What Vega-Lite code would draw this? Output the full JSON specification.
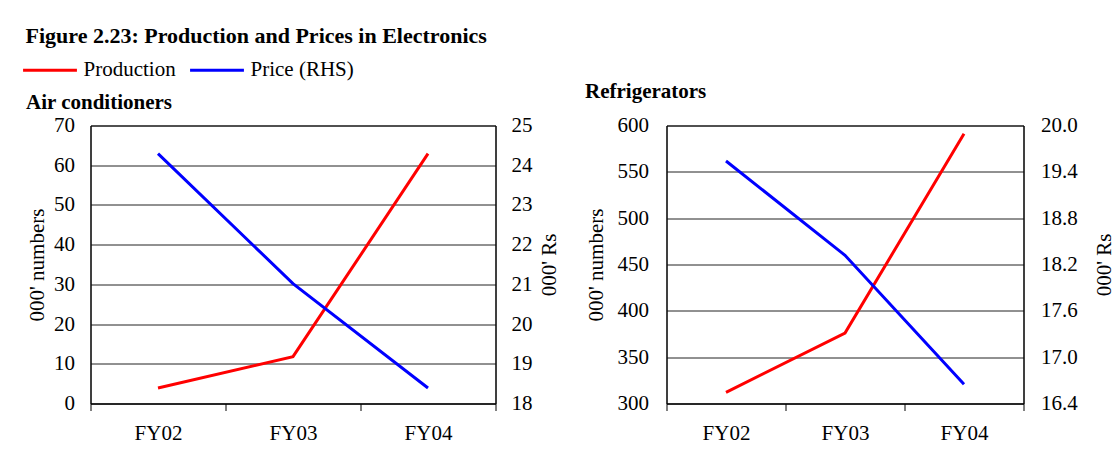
{
  "$schema": "https://vega.github.io/schema/vega-lite/v6.json",
  "padding": {"left": 21.5, "top": 24.5, "right": 2, "bottom": 5},
  "background": "white",
  "title": {
    "text": "Figure 2.23: Production and Prices in Electronics",
    "anchor": "start",
    "font": "Liberation Serif",
    "fontSize": 22,
    "fontWeight": "bold",
    "color": "black",
    "offset": -6.5,
    "dx": 4
  },
  "datasets": {
    "ac": [
      {"year": "FY02", "production": 3.9, "price": 24.29},
      {"year": "FY03", "production": 11.8, "price": 21.02},
      {"year": "FY04", "production": 62.9, "price": 18.39}
    ],
    "ref": [
      {"year": "FY02", "production": 312, "price": 19.54},
      {"year": "FY03", "production": 376, "price": 18.32},
      {"year": "FY04", "production": 591, "price": 16.65}
    ]
  },
  "spacing": 24,
  "hconcat": [
    {
      "title": {"text": "Air conditioners", "anchor": "start", "offset": 2},
      "width": 405,
      "height": 278,
      "data": {"name": "ac"},
      "encoding": {
        "x": {
          "field": "year", "type": "nominal",
          "scale": {"type": "band", "paddingInner": 0, "paddingOuter": 0},
          "axis": {"title": null, "labelAngle": 0, "tickBand": "extent", "tickSize": 7, "labelPadding": 12, "grid": false}
        }
      },
      "layer": [
        {
          "mark": {"type": "line", "strokeWidth": 3},
          "encoding": {
            "y": {
              "field": "production", "type": "quantitative",
              "scale": {"domain": [0, 70], "nice": false, "zero": false},
              "axis": {"title": "000' numbers", "values": [0, 10, 20, 30, 40, 50, 60, 70], "grid": true, "labelPadding": 16, "titlePadding": 6.5}
            },
            "color": {
              "datum": "Production",
              "scale": {"domain": ["Production", "Price (RHS)"], "range": ["#ff0000", "#0000ff"]},
              "legend": {"title": null}
            }
          }
        },
        {
          "mark": {"type": "line", "strokeWidth": 3},
          "encoding": {
            "y": {
              "field": "price", "type": "quantitative",
              "scale": {"domain": [18, 25], "nice": false, "zero": false},
              "axis": {"title": "000' Rs", "orient": "right", "values": [18, 19, 20, 21, 22, 23, 24, 25], "grid": false, "titleAngle": 270, "titleBaseline": "top", "labelPadding": 15.5, "titlePadding": 6.5}
            },
            "color": {"datum": "Price (RHS)"}
          }
        }
      ],
      "resolve": {"scale": {"y": "independent"}}
    },
    {
      "title": {"text": "Refrigerators", "anchor": "start", "offset": 13},
      "width": 357,
      "height": 278,
      "data": {"name": "ref"},
      "encoding": {
        "x": {
          "field": "year", "type": "nominal",
          "scale": {"type": "band", "paddingInner": 0, "paddingOuter": 0},
          "axis": {"title": null, "labelAngle": 0, "tickBand": "extent", "tickSize": 7, "labelPadding": 12, "grid": false}
        }
      },
      "layer": [
        {
          "mark": {"type": "line", "strokeWidth": 3},
          "encoding": {
            "y": {
              "field": "production", "type": "quantitative",
              "scale": {"domain": [300, 600], "nice": false, "zero": false},
              "axis": {"title": "000' numbers", "values": [300, 350, 400, 450, 500, 550, 600], "grid": true, "labelPadding": 18, "titlePadding": 11}
            },
            "color": {"datum": "Production"}
          }
        },
        {
          "mark": {"type": "line", "strokeWidth": 3},
          "encoding": {
            "y": {
              "field": "price", "type": "quantitative",
              "scale": {"domain": [16.4, 20.0], "nice": false, "zero": false},
              "axis": {"title": "000' Rs", "orient": "right", "values": [16.4, 17.0, 17.6, 18.2, 18.8, 19.4, 20.0], "format": ".1f", "grid": false, "titleAngle": 270, "titleBaseline": "top", "labelPadding": 17, "titlePadding": 16.5}
            },
            "color": {"datum": "Price (RHS)"}
          }
        }
      ],
      "resolve": {"scale": {"y": "independent"}}
    }
  ],
  "config": {
    "font": "Liberation Serif",
    "view": {"stroke": "black", "strokeWidth": 1},
    "title": {"font": "Liberation Serif", "fontSize": 21, "fontWeight": "bold", "color": "black"},
    "axis": {
      "labelFont": "Liberation Serif", "labelFontSize": 21, "labelColor": "black",
      "titleFont": "Liberation Serif", "titleFontSize": 21, "titleFontWeight": "normal", "titleColor": "black",
      "domainColor": "black", "tickColor": "black", "gridColor": "#222222", "gridWidth": 1
    },
    "axisY": {"ticks": false},
    "legend": {
      "orient": "none", "legendX": -69, "legendY": -84, "direction": "horizontal", "symbolType": "stroke", "symbolSize": 2900, "symbolStrokeWidth": 3,
      "labelFont": "Liberation Serif", "labelFontSize": 21, "labelColor": "black", "labelOffset": 5,
      "columnPadding": 7, "padding": 0
    }
  }
}
